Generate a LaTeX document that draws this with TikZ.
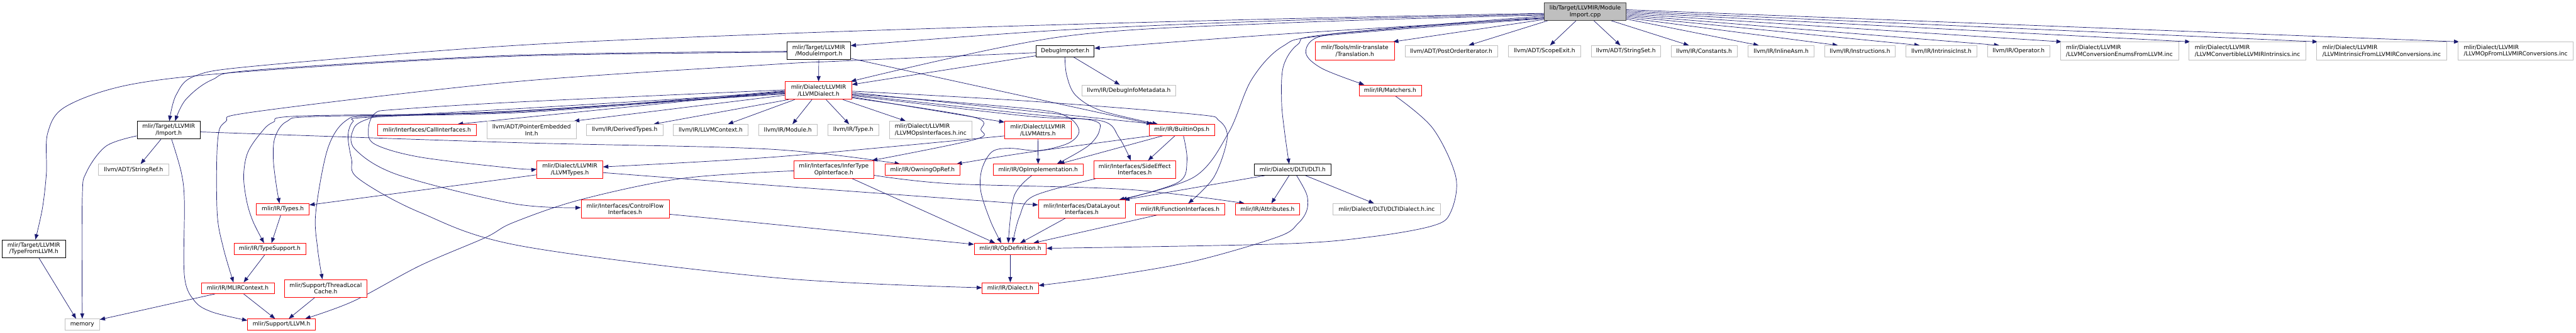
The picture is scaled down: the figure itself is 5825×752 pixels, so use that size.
\documentclass[tikz,border=0pt]{standalone}
\usepackage{fontspec}
\setmainfont{DejaVu Sans}
\usetikzlibrary{arrows.meta}
\definecolor{edgeblue}{HTML}{191970}
\definecolor{boxgray}{HTML}{BFBFBF}
\definecolor{boxred}{HTML}{FF0000}
\newcommand\dxf{\fontsize{12.9pt}{15pt}\selectfont}
\pgfdeclarelayer{bgl}
\pgfdeclarelayer{edges}
\pgfsetlayers{bgl,edges,main}
\tikzset{
  nb/.style={rectangle, inner sep=0pt, align=center, font=\dxf, fill=white, line width=1.1pt, text=black},
  rb/.style={nb, draw=boxred},
  gb/.style={nb, draw=boxgray},
  gbl/.style={nb, draw=boxgray, align=left},
  kb/.style={nb, draw=black, line width=1.3pt},
  mb/.style={nb, draw=black!75, fill=boxgray, line width=1.3pt},
  conn/.style={draw=edgeblue, line width=1pt, -{Triangle[length=12pt,width=9pt]}},
}
\newcommand\bx[7]{\node[#1,minimum width=#5pt,minimum height=#6pt] (#2) at (#3,#4) {#7};}
\newcommand\ed[1]{\draw[conn] plot[smooth, tension=0.55] coordinates {#1};}
\begin{document}
\begin{tikzpicture}[x=1pt,y=-1pt]
\useasboundingbox (0,0) rectangle (5825,752);
\begin{pgfonlayer}{bgl}
\fill[white] (0,0) rectangle (5825,752);
\end{pgfonlayer}
% row 0
\bx{mb}{main}{3584.5}{26}{185}{40}{lib/Target/LLVMIR/Module\\Import.cpp}
% row 1
\bx{kb}{modimp}{1851.5}{115}{143}{40}{mlir/Target/LLVMIR\\/ModuleImport.h}
\bx{kb}{dbgimp}{2408.5}{115.5}{131}{25}{DebugImporter.h}
\bx{rb}{transl}{3063.5}{115}{179}{40}{mlir/Tools/mlir-translate\\/Translation.h}
\bx{gb}{postord}{3281.5}{115.5}{209}{25}{llvm/ADT/PostOrderIterator.h}
\bx{gb}{scopeexit}{3492.5}{115.5}{163}{25}{llvm/ADT/ScopeExit.h}
\bx{gb}{stringset}{3676.5}{115.5}{157}{25}{llvm/ADT/StringSet.h}
\bx{gb}{constants}{3853.5}{115.5}{149}{25}{llvm/IR/Constants.h}
\bx{gb}{inlineasm}{4027.5}{115.5}{149}{25}{llvm/IR/InlineAsm.h}
\bx{gb}{instructions}{4206}{115.5}{160}{25}{llvm/IR/Instructions.h}
\bx{gb}{intrinsicinst}{4390}{115.5}{160}{25}{llvm/IR/IntrinsicInst.h}
\bx{gb}{operator}{4564.5}{115.5}{141}{25}{llvm/IR/Operator.h}
\bx{gbl}{convenums}{4792.5}{115}{267}{40}{mlir/Dialect/LLVMIR\\/LLVMConversionEnumsFromLLVM.inc}
\bx{gbl}{convintr}{5082}{115}{264}{40}{mlir/Dialect/LLVMIR\\/LLVMConvertibleLLVMIRIntrinsics.inc}
\bx{gbl}{intrfrom}{5385.5}{115}{295}{40}{mlir/Dialect/LLVMIR\\/LLVMIntrinsicFromLLVMIRConversions.inc}
\bx{gbl}{opfrom}{5688.5}{115}{261}{40}{mlir/Dialect/LLVMIR\\/LLVMOpFromLLVMIRConversions.inc}
% row 2
\bx{rb}{llvmdialect}{1851}{204.5}{150}{40}{mlir/Dialect/LLVMIR\\/LLVMDialect.h}
\bx{gb}{debuginfo}{2552.5}{204.5}{213}{25}{llvm/IR/DebugInfoMetadata.h}
\bx{rb}{matchers}{3143.5}{204.5}{141}{25}{mlir/IR/Matchers.h}
% row 3
\bx{kb}{import}{381.5}{294}{143}{40}{mlir/Target/LLVMIR\\/Import.h}
\bx{rb}{callif}{965.5}{293.5}{223}{25}{mlir/Interfaces/CallInterfaces.h}
\bx{gb}{ptremb}{1202}{294}{202}{40}{llvm/ADT/PointerEmbedded\\Int.h}
\bx{gb}{derived}{1412.5}{293.5}{173}{25}{llvm/IR/DerivedTypes.h}
\bx{gb}{llvmctx}{1607}{293.5}{170}{25}{llvm/IR/LLVMContext.h}
\bx{gb}{module}{1781.5}{293.5}{133}{25}{llvm/IR/Module.h}
\bx{gb}{type}{1929.5}{293.5}{115}{25}{llvm/IR/Type.h}
\bx{gbl}{opsif}{2104.5}{294}{185}{40}{mlir/Dialect/LLVMIR\\/LLVMOpsInterfaces.h.inc}
\bx{rb}{attrs}{2347}{294}{150}{40}{mlir/Dialect/LLVMIR\\/LLVMAttrs.h}
\bx{rb}{builtinops}{2672.5}{293.5}{147}{25}{mlir/IR/BuiltinOps.h}
% row 4
\bx{gb}{stringref}{302}{383.5}{158}{25}{llvm/ADT/StringRef.h}
\bx{rb}{llvmtypes}{1288.5}{383}{149}{40}{mlir/Dialect/LLVMIR\\/LLVMTypes.h}
\bx{rb}{infertype}{1885.5}{383}{181}{40}{mlir/Interfaces/InferType\\OpInterface.h}
\bx{rb}{owning}{2086}{383.5}{170}{25}{mlir/IR/OwningOpRef.h}
\bx{rb}{opimpl}{2347.5}{383.5}{203}{25}{mlir/IR/OpImplementation.h}
\bx{rb}{sideeff}{2566}{383}{186}{40}{mlir/Interfaces/SideEffect\\Interfaces.h}
\bx{kb}{dlti}{2923}{383.5}{174}{25}{mlir/Dialect/DLTI/DLTI.h}
% row 5
\bx{rb}{types}{639.5}{472.5}{119}{25}{mlir/IR/Types.h}
\bx{rb}{cfif}{1413.5}{472}{199}{40}{mlir/Interfaces/ControlFlow\\Interfaces.h}
\bx{rb}{datalayout}{2446}{472}{196}{40}{mlir/Interfaces/DataLayout\\Interfaces.h}
\bx{rb}{funcif}{2668.5}{472.5}{201}{25}{mlir/IR/FunctionInterfaces.h}
\bx{rb}{attributes}{2866}{472.5}{146}{25}{mlir/IR/Attributes.h}
\bx{gb}{dltiinc}{3135.5}{472.5}{243}{25}{mlir/Dialect/DLTI/DLTIDialect.h.inc}
% row 6
\bx{kb}{typefrom}{76.5}{562}{143}{40}{mlir/Target/LLVMIR\\/TypeFromLLVM.h}
\bx{rb}{typesupport}{610}{562}{162}{25}{mlir/IR/TypeSupport.h}
\bx{rb}{opdef}{2284.5}{562}{163}{25}{mlir/IR/OpDefinition.h}
% row 7
\bx{rb}{mlirctx}{537.5}{651}{165}{25}{mlir/IR/MLIRContext.h}
\bx{rb}{tlc}{736.5}{651.5}{185}{40}{mlir/Support/ThreadLocal\\Cache.h}
\bx{rb}{dialect}{2284.5}{651}{127}{25}{mlir/IR/Dialect.h}
% row 8
\bx{gb}{memory}{186}{733}{78}{25}{memory}
\bx{rb}{support}{636.5}{733}{153}{25}{mlir/Support/LLVM.h}

\begin{pgfonlayer}{edges}
% from main, left side
\ed{(main.west |- 0,30) (2920,42) (2320,58) (1740,77) (1160,103) (580,149) (440,172) (398,215) (383,0 |- import.north)}
\ed{(main.west |- 0,32) (2920,46) (2400,68) (modimp.east |- 0,103)}
\ed{(main.west |- 0,34) (2900,52) (2400,83) (1924,0 |- llvmdialect.north)}
\ed{(main.west |- 0,41) (2900,77) (dbgimp.east |- 0,109)}
\ed{(main.west |- 0,36) (3100,68) (2980,84) (2953,120) (2990,155) (3085,0 |- matchers.north)}
\ed{(main.west |- 0,39) (3000,78) (2935,100) (2902,150) (2898,230) (2905,300) (2915,0 |- dlti.north)}
\ed{(main.west |- 0,42) (3000,80) (2900,105) (2830,180) (2778,300) (2700,400) (2530,0 |- datalayout.north)}
\ed{(main.west |- 0,44) (3150,0 |- transl.north)}
\ed{(3500,0 |- main.south) (3321,0 |- postord.north)}
\ed{(3564,0 |- main.south) (3505,0 |- scopeexit.north)}
\ed{(3604,0 |- main.south) (3664,0 |- stringset.north)}
\ed{(3643,0 |- main.south) (3819,0 |- constants.north)}
% from main, right side
\ed{(main.east |- 0,43) (3977,0 |- inlineasm.north)}
\ed{(main.east |- 0,40) (4156,0 |- instructions.north)}
\ed{(main.east |- 0,37) (4341,0 |- intrinsicinst.north)}
\ed{(main.east |- 0,34) (4521,0 |- operator.north)}
\ed{(main.east |- 0,31) (4662,0 |- convenums.north)}
\ed{(main.east |- 0,28) (4953,0 |- convintr.north)}
\ed{(main.east |- 0,25) (5241,0 |- intrfrom.north)}
\ed{(main.east |- 0,22) (5561,0 |- opfrom.north)}
% ModuleImport.h
\ed{(modimp.west |- 0,116) (1160,125) (580,158) (480,180) (420,225) (396,0 |- import.north)}
\ed{(modimp.west |- 0,118) (1160,127) (580,160) (300,190) (150,240) (108,300) (105,390) (96,470) (80,0 |- typefrom.north)}
\ed{(modimp.south) (llvmdialect.north)}
\ed{(modimp.east |- 0,132) (2605,0 |- builtinops.north)}
% DebugImporter.h
\ed{(dbgimp.west |- 0,126) (llvmdialect.east |- 0,191)}
\ed{(dbgimp.west |- 0,119) (1900,138) (1740,146) (1160,185) (580,252) (510,275) (492,320) (491,480) (505,560) (528,0 |- mlirctx.north)}
\ed{(2408,0 |- dbgimp.south) (2412,170) (2432,215) (2490,250) (2618,0 |- builtinops.north)}
\ed{(2427,0 |- dbgimp.south) (2532,0 |- debuginfo.north)}
% LLVMDialect.h down / right
\ed{(1783,0 |- llvmdialect.south) (1478,0 |- derived.north)}
\ed{(1797,0 |- llvmdialect.south) (1646,0 |- llvmctx.north)}
\ed{(1836,0 |- llvmdialect.south) (1792,0 |- module.north)}
\ed{(1868,0 |- llvmdialect.south) (1920,0 |- type.north)}
\ed{(1906,0 |- llvmdialect.south) (2048,0 |- opsif.north)}
\ed{(llvmdialect.east |- 0,219) (attrs.west |- 0,276)}
\ed{(llvmdialect.east |- 0,221) (2199,264) (2218,293) (2205,315) (1972,0 |- infertype.north)}
\ed{(llvmdialect.east |- 0,209) (2612,0 |- builtinops.north)}
\ed{(llvmdialect.east |- 0,214) (2320,257) (2470,272) (2486,295) (2460,330) (2390,0 |- opimpl.north)}
\ed{(llvmdialect.east |- 0,212) (2320,245) (2410,262) (2440,295) (2417,323) (2350,340) (2283,335) (2243,343) (2220,383) (2218,433) (2240,500) (2264,0 |- opdef.north)}
\ed{(llvmdialect.east |- 0,216) (2320,262) (2490,273) (2530,310) (2557,0 |- sideeff.north)}
\ed{(llvmdialect.east |- 0,206) (2320,228) (2700,258) (2756,272) (2775,312) (2745,400) (2687,0 |- funcif.north)}
% LLVMDialect.h left
\ed{(llvmdialect.west |- 0,206) (1035,0 |- callif.north)}
\ed{(llvmdialect.west |- 0,215) (1298,0 |- ptremb.north)}
\ed{(llvmdialect.west |- 0,208) (1180,254) (720,263) (649,274) (622,310) (618,359) (625,420) (632,0 |- types.north)}
\ed{(llvmdialect.west |- 0,205) (1180,252) (680,262) (618,276) (590,300) (560,345) (551,398) (558,455) (572,500) (597,0 |- typesupport.north)}
\ed{(llvmdialect.west |- 0,212) (1180,250) (850,262) (783,272) (741,336) (714,480) (718,560) (729,0 |- tlc.north)}
\ed{(llvmdialect.west |- 0,203) (1180,230) (900,247) (848,256) (833,293) (848,326) (950,355) (1160,380) (llvmtypes.west |- 0,382)}
\ed{(llvmdialect.west |- 0,209) (1180,245) (880,262) (829,270) (800,290) (802,336) (900,395) (1160,460) (cfif.west |- 0,469)}
\ed{(llvmdialect.west |- 0,211) (1180,250) (830,265) (798,275) (787,307) (795,360) (810,403) (950,480) (1180,556) (1760,628) (dialect.west |- 0,650)}
% Import.h
\ed{(364,0 |- import.south) (318,0 |- stringref.north)}
\ed{(import.west |- 0,307) (240,330) (195,390) (186,450) (186,0 |- memory.north)}
\ed{(388,0 |- import.south) (410,390) (417,456) (417,623) (440,680) (480,705) (support.west |- 0,724)}
\ed{(import.east |- 0,298) (1160,322) (1740,337) (2035,0 |- owning.north)}
% lower left
\ed{(88,0 |- typefrom.south) (172,0 |- memory.north)}
\ed{(486,0 |- mlirctx.south) (memory.east |- 0,722)}
\ed{(551,0 |- mlirctx.south) (622,0 |- support.north)}
\ed{(599,0 |- typesupport.south) (551,0 |- mlirctx.north)}
\ed{(635,0 |- types.south) (614,0 |- typesupport.north)}
\ed{(712,0 |- tlc.south) (653,0 |- support.north)}
\ed{(infertype.west |- 0,386) (1543,403) (1313,451) (1160,503) (1097,537) (950,600) (800,680) (690,0 |- support.north)}
\ed{(llvmtypes.west |- 0,395) (types.east |- 0,463)}
\ed{(llvmtypes.east |- 0,390) (1760,420) (datalayout.west |- 0,463)}
\ed{(attrs.west |- 0,307) (1760,354) (llvmtypes.east |- 0,377)}
\ed{(cfif.east |- 0,484) (1740,506) (opdef.west |- 0,552)}
% middle
\ed{(1927,0 |- infertype.south) (2250,0 |- opdef.north)}
\ed{(infertype.east |- 0,396) (2150,415) (2550,428) (2814,0 |- attributes.north)}
\ed{(2333,0 |- opimpl.south) (2293,443) (2280,0 |- opdef.north)}
\ed{(2478,0 |- sideeff.south) (2337,443) (2305,490) (2290,0 |- opdef.north)}
\ed{(2410,0 |- datalayout.south) (2307,0 |- opdef.north)}
\ed{(2618,0 |- funcif.south) (2337,0 |- opdef.north)}
\ed{(3156,0 |- matchers.south) (3240,290) (3292,400) (3280,480) (3240,510) (3100,535) (2900,551) (opdef.east |- 0,561)}
\ed{(2932,0 |- dlti.south) (2955,440) (2955,475) (2935,505) (2890,535) (2700,590) (2500,625) (dialect.east |- 0,645)}
\ed{(2860,0 |- dlti.south) (2542,0 |- datalayout.north)}
\ed{(2915,0 |- dlti.south) (2875,0 |- attributes.north)}
\ed{(2952,0 |- dlti.south) (3107,0 |- dltiinc.north)}
\ed{(2657,0 |- builtinops.south) (2596,0 |- sideeff.north)}
\ed{(2605,0 |- builtinops.south) (2320,345) (2163,0 |- owning.north)}
\ed{(2630,0 |- builtinops.south) (2395,0 |- opimpl.north)}
\ed{(2676,0 |- builtinops.south) (2684,364) (2664,412) (2536,0 |- datalayout.north)}
\ed{(attrs.south) (opimpl.north)}
\ed{(opdef.south) (dialect.north)}
\end{pgfonlayer}
\end{tikzpicture}
\end{document}
